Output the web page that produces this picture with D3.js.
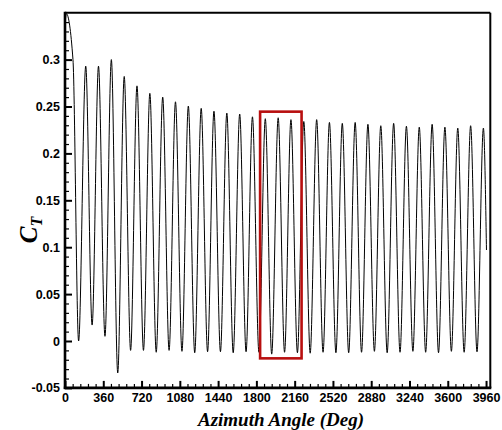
<!DOCTYPE html>
<html>
<head>
<meta charset="utf-8">
<script src="https://cdn.jsdelivr.net/npm/d3@7"></script>
<style>
  html, body { margin: 0; padding: 0; background: #fff; }
  svg { display: block; }
  .tick text { font-family: "Liberation Sans", Arial, sans-serif; font-weight: bold; font-size: 12.5px; fill: #000; }
</style>
</head>
<body>
<svg id="chart" width="502" height="430"></svg>
<script>
// ---- data ----
const startAngles = [0, 12, 75];
const startValues = [0.335, 0.349, 0.300];

const troughAngles = [128, 255, 376, 496, 617, 738, 858, 979, 1100, 1220, 1341, 1462, 1582, 1703, 1824, 1944,
                      2065, 2186, 2306, 2427, 2548, 2668, 2789, 2910, 3030, 3151, 3272, 3392, 3513, 3634, 3754, 3875];
const troughValues = [0.000, 0.017, 0.005, -0.034, -0.010, -0.010, -0.012, -0.010, -0.011, -0.0125, -0.0114,
                      -0.0114, -0.0125, -0.0114, -0.012, -0.014, -0.012, -0.0125, -0.013, -0.012, -0.0125, -0.0125,
                      -0.012, -0.011, -0.0125, -0.012, -0.011, -0.012, -0.0125, -0.011, -0.012, -0.0115];

const peakAngles = [195, 315, 436, 557, 677, 798, 919, 1039, 1160, 1281, 1401, 1522, 1643, 1763, 1884, 2005,
                    2125, 2246, 2367, 2487, 2608, 2729, 2849, 2970, 3091, 3211, 3332, 3453, 3573, 3694, 3815, 3935];
const peakValues = [0.293, 0.293, 0.300, 0.282, 0.272, 0.264, 0.260, 0.255, 0.2505, 0.248, 0.245, 0.243,
                    0.242, 0.239, 0.237, 0.238, 0.236, 0.234, 0.236, 0.233, 0.232, 0.233, 0.231, 0.2295,
                    0.232, 0.229, 0.228, 0.231, 0.228, 0.227, 0.2295, 0.227];

const endAngles = [3964];
const endValues = [0.097];

const xTickValues = [0, 360, 720, 1080, 1440, 1800, 2160, 2520, 2880, 3240, 3600, 3960];
const xTickLabels = ["0", "360", "720", "1080", "1440", "1800", "2160", "2520", "2880", "3240", "3600", "3960"];
const yTickValues = [-0.05, 0, 0.05, 0.1, 0.15, 0.2, 0.25, 0.3];
const yTickLabels = ["-0.05", "0", "0.05", "0.1", "0.15", "0.2", "0.25", "0.3"];

const boxAngles = [1835, 2225];
const boxValues = [-0.0185, 0.2445];

const xTitle = "Azimuth Angle (Deg)";
const yTitleMain = "C";
const yTitleSub = "T";

// ---- build the series ----
const series = [];
startAngles.forEach((a, i) => series.push([a, startValues[i]]));
troughAngles.forEach((a, i) => {
  series.push([a, troughValues[i]]);
  series.push([peakAngles[i], peakValues[i]]);
});
endAngles.forEach((a, i) => series.push([a, endValues[i]]));

// ---- scales ----
const L = 65, R = 490.3, T = 12.7, B = 387.9;
const x = d3.scaleLinear().domain([0, 4000]).range([L, R]);
const y = d3.scaleLinear().domain([-0.05, 0.35]).range([B, T]);

const svg = d3.select("#chart");

// minor ticks
const xMinor = d3.range(0, 4000, 72).filter(v => v % 360 !== 0);
const yMinor = d3.range(-50, 351, 10).map(v => v / 1000).filter(v => Math.abs(Math.round(v * 1000) % 50) !== 0 && v < 0.349);

function styleTicks(g, w) {
  g.select(".domain").remove();
  g.selectAll(".tick line").attr("stroke", "#000").attr("stroke-width", w);
}

svg.append("g").attr("transform", `translate(0,${B})`)
  .call(d3.axisBottom(x).tickValues(xMinor).tickSize(-4).tickFormat(""))
  .call(g => styleTicks(g, 1.2));
svg.append("g").attr("transform", `translate(${L},0)`)
  .call(d3.axisLeft(y).tickValues(yMinor).tickSize(-4).tickFormat(""))
  .call(g => styleTicks(g, 1.2));

svg.append("g").attr("transform", `translate(0,${B})`)
  .call(d3.axisBottom(x).tickValues(xTickValues).tickSize(-7).tickPadding(5)
        .tickFormat((d, i) => xTickLabels[i]))
  .call(g => styleTicks(g, 2));
svg.append("g").attr("transform", `translate(${L},0)`)
  .call(d3.axisLeft(y).tickValues(yTickValues).tickSize(-7).tickPadding(5)
        .tickFormat((d, i) => yTickLabels[i]))
  .call(g => styleTicks(g, 2));

// clip for the curve
svg.append("clipPath").attr("id", "clip")
  .append("rect").attr("x", L).attr("y", T).attr("width", R - L).attr("height", B - T);

const line = d3.line()
  .x(d => x(d[0]))
  .y(d => y(d[1]))
  .curve(d3.curveMonotoneX);

svg.append("path")
  .datum(series)
  .attr("clip-path", "url(#clip)")
  .attr("fill", "none")
  .attr("stroke", "#000")
  .attr("stroke-width", 1)
  .attr("d", line);

// red box
svg.append("rect")
  .attr("x", x(boxAngles[0]))
  .attr("y", y(boxValues[1]))
  .attr("width", x(boxAngles[1]) - x(boxAngles[0]))
  .attr("height", y(boxValues[0]) - y(boxValues[1]))
  .attr("fill", "none")
  .attr("stroke", "#b80f0f")
  .attr("stroke-width", 2.6);

// frame
svg.append("line").attr("x1", L).attr("x2", R).attr("y1", T).attr("y2", T).attr("stroke", "#000").attr("stroke-width", 2);
svg.append("line").attr("x1", R).attr("x2", R).attr("y1", T).attr("y2", B).attr("stroke", "#000").attr("stroke-width", 2);
svg.append("line").attr("x1", L).attr("x2", L).attr("y1", T - 1).attr("y2", B + 1.2).attr("stroke", "#000").attr("stroke-width", 2.6);
svg.append("line").attr("x1", L - 1.2).attr("x2", R + 1).attr("y1", B).attr("y2", B).attr("stroke", "#000").attr("stroke-width", 2.6);

// titles
svg.append("text")
  .attr("x", 281).attr("y", 426)
  .attr("text-anchor", "middle")
  .attr("font-family", "'Liberation Serif', 'Times New Roman', serif")
  .attr("font-weight", "bold").attr("font-style", "italic")
  .attr("font-size", 19)
  .text(xTitle);

const yt = svg.append("text")
  .attr("transform", "translate(37,230) rotate(-90)")
  .attr("text-anchor", "middle")
  .attr("font-family", "'Liberation Serif', 'Times New Roman', serif")
  .attr("font-weight", "bold").attr("font-style", "italic");
yt.append("tspan").attr("font-size", 25).text(yTitleMain);
yt.append("tspan").attr("font-size", 16).attr("dy", 5).text(yTitleSub);
</script>
</body>
</html>
